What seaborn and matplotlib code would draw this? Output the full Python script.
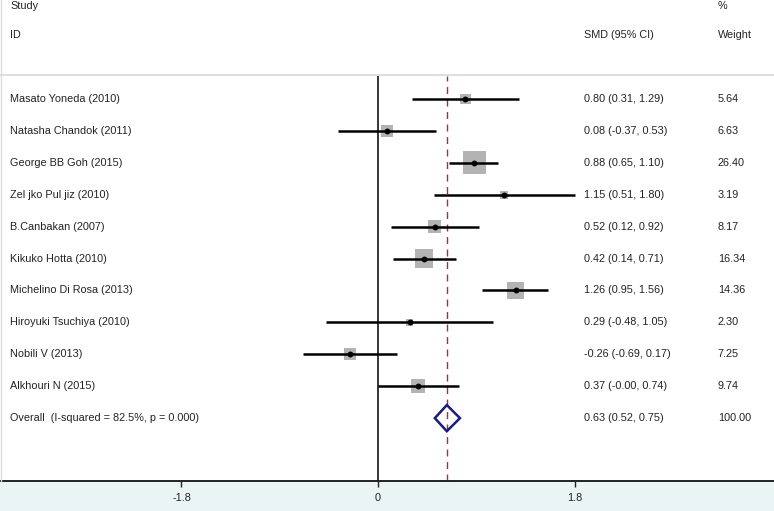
# forest plot: SMD per study, random-effects pooled estimate
import numpy as np
import pandas as pd
import matplotlib
matplotlib.use("Agg")
import matplotlib.pyplot as plt
from matplotlib.patches import Rectangle
from matplotlib.lines import Line2D
import seaborn as sns

# -------------------------------
# DATA
# -------------------------------
studies = ["Masato Yoneda (2010)", "Natasha Chandok (2011)", "George BB Goh (2015)",
           "Zel jko Pul jiz (2010)", "B.Canbakan (2007)", "Kikuko Hotta (2010)",
           "Michelino Di Rosa (2013)", "Hiroyuki Tsuchiya (2010)", "Nobili V (2013)",
           "Alkhouri N (2015)"]
smd = [0.80, 0.08, 0.88, 1.15, 0.52, 0.42, 1.26, 0.29, -0.26, 0.37]
ci_low = [0.31, -0.37, 0.65, 0.51, 0.12, 0.14, 0.95, -0.48, -0.69, -0.0]
ci_high = [1.29, 0.53, 1.10, 1.80, 0.92, 0.71, 1.56, 1.05, 0.17, 0.74]
weights = [5.64, 6.63, 26.40, 3.19, 8.17, 16.34, 14.36, 2.30, 7.25, 9.74]

overall_label = "Overall  (I-squared = 82.5%, p = 0.000)"
overall_smd, overall_low, overall_high, overall_weight = 0.63, 0.52, 0.75, 100.00

x_ticks = [-1.8, 0, 1.8]
x_ticklabels = ["-1.8", "0", "1.8"]

df = pd.DataFrame({"study": studies, "smd": smd, "lo": ci_low, "hi": ci_high,
                   "weight": weights})
df["row"] = np.arange(1, len(df) + 1)
overall_row = len(df) + 1

# -------------------------------
# STYLE
# -------------------------------
sns.set_style("white")
plt.rcParams["font.family"] = ["Liberation Sans", "DejaVu Sans"]
txt_color = "#222222"
fs = 7.8

W, H = 774, 511
fig = plt.figure(figsize=(W / 100, H / 100), dpi=100)
fig.patch.set_facecolor("white")

# bottom band under the axis
fig.add_artist(Rectangle((0, 0), 1, 30 / H, transform=fig.transFigure,
                         facecolor="#eaf4f4", edgecolor="none", zorder=0))
# header separator and left border
fig.add_artist(Line2D([0, 1], [1 - 75 / H] * 2, transform=fig.transFigure,
                      color="#d8d8d8", lw=1.2))
fig.add_artist(Line2D([0.7 / W] * 2, [30 / H, 1], transform=fig.transFigure,
                      color="#dcdcdc", lw=1.0))

ax = fig.add_axes([0, 30 / H, 1, (481 - 76) / H])
ax.set_facecolor("none")

# -------------------------------
# MARKS
# -------------------------------
k = 10.5
wmin, wmax = df["weight"].min(), df["weight"].max()
sns.scatterplot(data=df, x="smd", y="row", size="weight", sizes=(k * wmin, k * wmax),
                size_norm=(wmin, wmax), marker="s", color="#b3b3b3", linewidth=0,
                legend=False, ax=ax, zorder=2)
ax.hlines(df["row"], df["lo"], df["hi"], color="black", lw=1.8, zorder=3)
sns.scatterplot(data=df, x="smd", y="row", marker="o", s=18, color="black",
                linewidth=0, legend=False, ax=ax, zorder=4)

# pooled diamond
h = 0.41
ax.fill([overall_low, overall_smd, overall_high, overall_smd],
        [overall_row, overall_row - h, overall_row, overall_row + h],
        facecolor="none", edgecolor="#1c1c7a", lw=1.8, zorder=4)

ax.axvline(0, color="black", lw=1.1, zorder=1)
ax.axvline(overall_smd, color="#b8282a", lw=1.0, ls=(0, (5, 4)), zorder=1)

# -------------------------------
# AXES
# -------------------------------
ax.set_xlim(-3.462, 3.626)
ax.set_ylim(12.97, 0.28)
ax.set_xticks(x_ticks)
ax.set_xticklabels(x_ticklabels, fontsize=fs, color=txt_color)
ax.set_yticks([])
ax.set_xlabel("")
ax.set_ylabel("")
for s in ["top", "left", "right"]:
    ax.spines[s].set_visible(False)
ax.spines["bottom"].set_color("#222222")
ax.spines["bottom"].set_linewidth(1.4)
ax.tick_params(axis="x", direction="out", length=4.5, width=1, color="#222222",
               pad=4, bottom=True)

# -------------------------------
# TEXT COLUMNS
# -------------------------------
tr = ax.get_yaxis_transform()
x_study, x_est, x_w = 10 / W, 584 / W, 718 / W
for _, r in df.iterrows():
    ax.text(x_study, r["row"], r["study"], transform=tr, fontsize=fs,
            color=txt_color, va="center", ha="left")
    ax.text(x_est, r["row"], f"{r['smd']:.2f} ({r['lo']:.2f}, {r['hi']:.2f})",
            transform=tr, fontsize=fs, color=txt_color, va="center", ha="left")
    ax.text(x_w, r["row"], f"{r['weight']:.2f}", transform=tr, fontsize=fs,
            color=txt_color, va="center", ha="left")
ax.text(x_study, overall_row, overall_label, transform=tr, fontsize=fs,
        color=txt_color, va="center", ha="left")
ax.text(x_est, overall_row, f"{overall_smd:.2f} ({overall_low:.2f}, {overall_high:.2f})",
        transform=tr, fontsize=fs, color=txt_color, va="center", ha="left")
ax.text(x_w, overall_row, f"{overall_weight:.2f}", transform=tr, fontsize=fs,
        color=txt_color, va="center", ha="left")

# header
fig.text(x_study, 1 - 6 / H, "Study", fontsize=fs, color=txt_color, va="center")
fig.text(x_study, 1 - 35 / H, "ID", fontsize=fs, color=txt_color, va="center")
fig.text(x_est, 1 - 35 / H, "SMD (95% CI)", fontsize=fs, color=txt_color, va="center")
fig.text(x_w, 1 - 6 / H, "%", fontsize=fs, color=txt_color, va="center")
fig.text(x_w, 1 - 35 / H, "Weight", fontsize=fs, color=txt_color, va="center")

fig.savefig("out.png", dpi=100)
